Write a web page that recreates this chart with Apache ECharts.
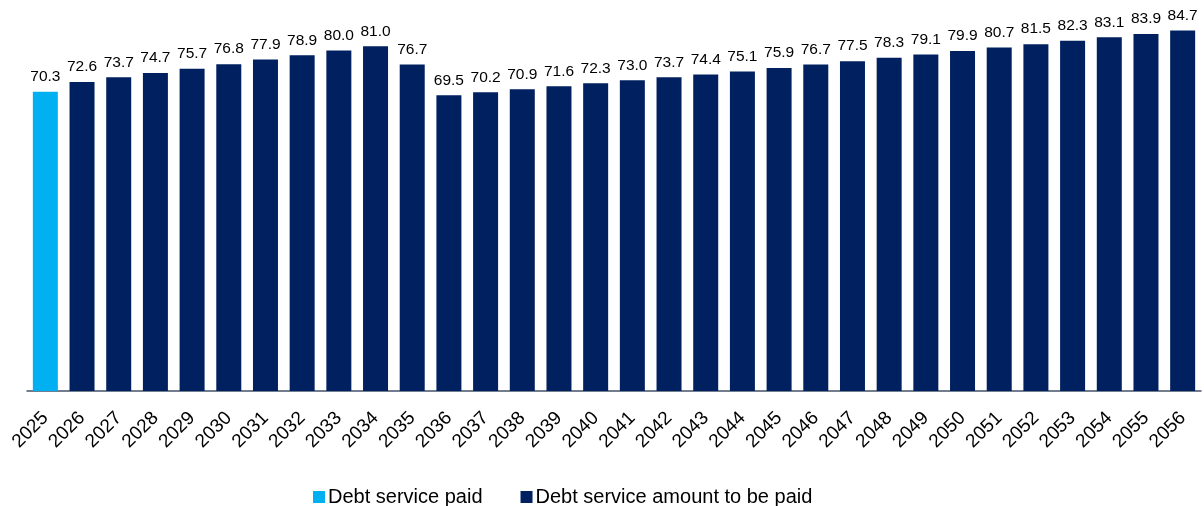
<!DOCTYPE html>
<html>
<head>
<meta charset="utf-8">
<script src="https://cdn.jsdelivr.net/npm/echarts@6/dist/echarts.min.js"></script>
<style>
  html, body { margin: 0; padding: 0; background: #fff; }
  #chart { width: 1204px; height: 506px; }
</style>
</head>
<body>
<div id="chart"></div>
<script>
// Years on the category axis
const years = ['2025','2026','2027','2028','2029','2030','2031','2032','2033','2034','2035',
  '2036','2037','2038','2039','2040','2041','2042','2043','2044','2045','2046','2047','2048',
  '2049','2050','2051','2052','2053','2054','2055','2056'];

// Debt service already paid (first year only)
const paidValues = [70.3];

// Debt service still to be paid, 2026 onwards
const toPayValues = [72.6, 73.7, 74.7, 75.7, 76.8, 77.9, 78.9, 80.0, 81.0, 76.7,
  69.5, 70.2, 70.9, 71.6, 72.3, 73.0, 73.7, 74.4, 75.1, 75.9, 76.7, 77.5, 78.3,
  79.1, 79.9, 80.7, 81.5, 82.3, 83.1, 83.9, 84.7];

const seriesNames = ['Debt service paid', 'Debt service amount to be paid'];

// Pad each series to the full year range so both share one category slot
const paidData = years.map((y, i) => (i < paidValues.length ? paidValues[i] : null));
const toPayData = years.map((y, i) => (i >= paidValues.length ? toPayValues[i - paidValues.length] : null));

const font = 'Liberation Sans, Arial, sans-serif';
const labelStyle = {
  show: true,
  position: 'top',
  distance: 7,
  color: '#000',
  fontFamily: font,
  fontSize: 15.5,
  formatter: p => p.value.toFixed(1)
};

const chart = echarts.init(document.getElementById('chart'), null, { renderer: 'canvas' });
chart.setOption({
  animation: false,
  grid: { left: 27, right: 3, top: 8, bottom: 115, containLabel: false },
  legend: {
    left: 308,
    top: 482,
    itemWidth: 12,
    itemHeight: 12,
    itemGap: 38,
    icon: 'rect',
    textStyle: { fontFamily: font, fontSize: 20, color: '#000', padding: [0, 0, 0, -2] },
    data: seriesNames
  },
  xAxis: {
    type: 'category',
    data: years,
    axisLine: { lineStyle: { color: '#44546A', width: 1.5 } },
    axisTick: { show: false },
    axisLabel: {
      interval: 0,
      rotate: 45,
      color: '#000',
      fontFamily: font,
      fontSize: 19,
      margin: 24
    }
  },
  yAxis: {
    type: 'value',
    min: 0,
    max: 90,
    show: false,
    splitLine: { show: false }
  },
  series: [
    {
      name: seriesNames[0],
      type: 'bar',
      data: paidData,
      barWidth: 25,
      barGap: '-100%',
      itemStyle: { color: '#00B0F0' },
      label: labelStyle
    },
    {
      name: seriesNames[1],
      type: 'bar',
      data: toPayData,
      barWidth: 25,
      itemStyle: { color: '#002060' },
      label: labelStyle
    }
  ]
});
</script>
</body>
</html>
